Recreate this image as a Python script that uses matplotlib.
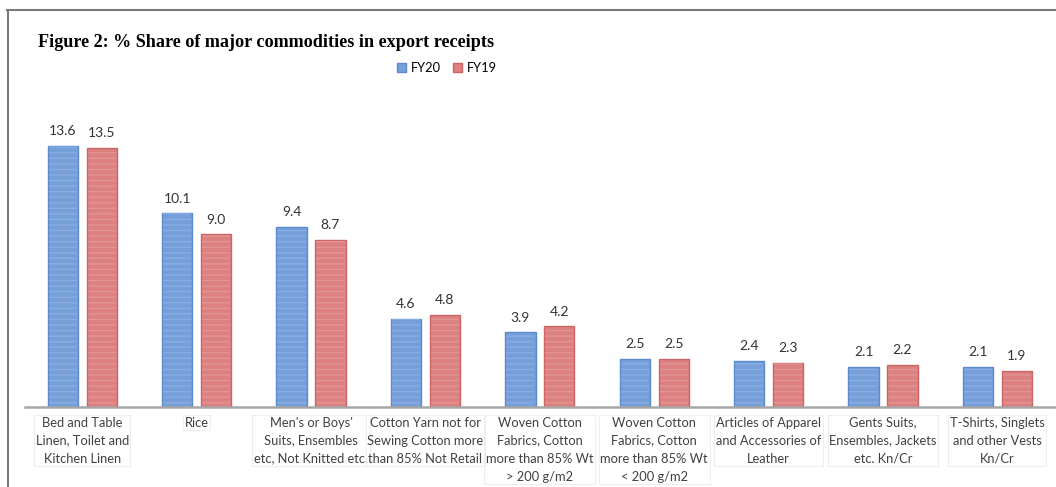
import matplotlib.pyplot as plt
import numpy as np

categories = [
    "Bed and Table\nLinen, Toilet and\nKitchen Linen",
    "Rice",
    "Men's or Boys'\nSuits, Ensembles\netc, Not Knitted etc.",
    "Cotton Yarn not for\nSewing Cotton more\nthan 85% Not Retail",
    "Woven Cotton\nFabrics, Cotton\nmore than 85% Wt\n> 200 g/m2",
    "Woven Cotton\nFabrics, Cotton\nmore than 85% Wt\n< 200 g/m2",
    "Articles of Apparel\nand Accessories of\nLeather",
    "Gents Suits,\nEnsembles, Jackets\netc. Kn/Cr",
    "T-Shirts, Singlets\nand other Vests\nKn/Cr",
]
fy20 = [13.6, 10.1, 9.4, 4.6, 3.9, 2.5, 2.4, 2.1, 2.1]
fy19 = [13.5, 9.0, 8.7, 4.8, 4.2, 2.5, 2.3, 2.2, 1.9]

plt.rcParams['hatch.linewidth'] = 1.0

fig = plt.figure(figsize=(10.56, 4.87), dpi=100)
ax = fig.add_axes([0.0237, 0.1643, 0.975, 0.6304])

x = np.arange(len(categories))
w = 0.265
ax.bar(x - 0.17, fy20, w, color='#769FDA', edgecolor='#5A8AD0', linewidth=1, label='FY20')
ax.bar(x + 0.17, fy19, w, color='#DC8080', edgecolor='#CF6464', linewidth=1, label='FY19')
# light horizontal stripes on the bars
ax.bar(x - 0.17, fy20, w * 0.93, fill=False, edgecolor='#88ADE2', linewidth=0, hatch='---')
ax.bar(x + 0.17, fy19, w * 0.93, fill=False, edgecolor='#E39494', linewidth=0, hatch='---')

for i in range(len(x)):
    ax.text(x[i] - 0.17, fy20[i] + 0.45, '%.1f' % fy20[i], ha='center', va='bottom',
            fontsize=10, color='#333333', family='Lato')
    ax.text(x[i] + 0.17, fy19[i] + 0.45, '%.1f' % fy19[i], ha='center', va='bottom',
            fontsize=10, color='#333333', family='Lato')
    ax.text(x[i], -0.5, categories[i], ha='center', va='top', fontsize=9.3,
            color='#404040', family='Lato', linespacing=1.6,
            bbox=dict(boxstyle='square,pad=0.12', fc='none', ec='#EEEEEE', lw=0.8))

ax.set_xlim(-0.5, len(categories) - 0.5)
ax.set_ylim(0, 16)
ax.set_xticks([])
ax.set_yticks([])
for s in ['top', 'right', 'left']:
    ax.spines[s].set_visible(False)
ax.spines['bottom'].set_color('#A6A6A6')
ax.spines['bottom'].set_linewidth(1.8)

fig.text(38 / 1056, 1 - 47 / 487, 'Figure 2: % Share of major commodities in export receipts',
         fontsize=13.1, fontweight='bold', family='Liberation Serif', va='baseline')

fig.legend(loc='center', bbox_to_anchor=(447 / 1056, 1 - 68 / 487), ncol=2, frameon=False,
           prop={'family': 'Lato', 'size': 9.3}, handlelength=0.7, handleheight=0.7,
           handletextpad=0.4, columnspacing=0.9)

# frame lines round the figure
fig.add_artist(plt.Line2D([7 / 1056, 1], [1 - 10 / 487, 1 - 10 / 487], color='#7A7A7A', lw=1.5))
fig.add_artist(plt.Line2D([8 / 1056, 8 / 1056], [0, 1 - 10 / 487], color='#7A7A7A', lw=1.5))

fig.savefig('out.png', dpi=100)
